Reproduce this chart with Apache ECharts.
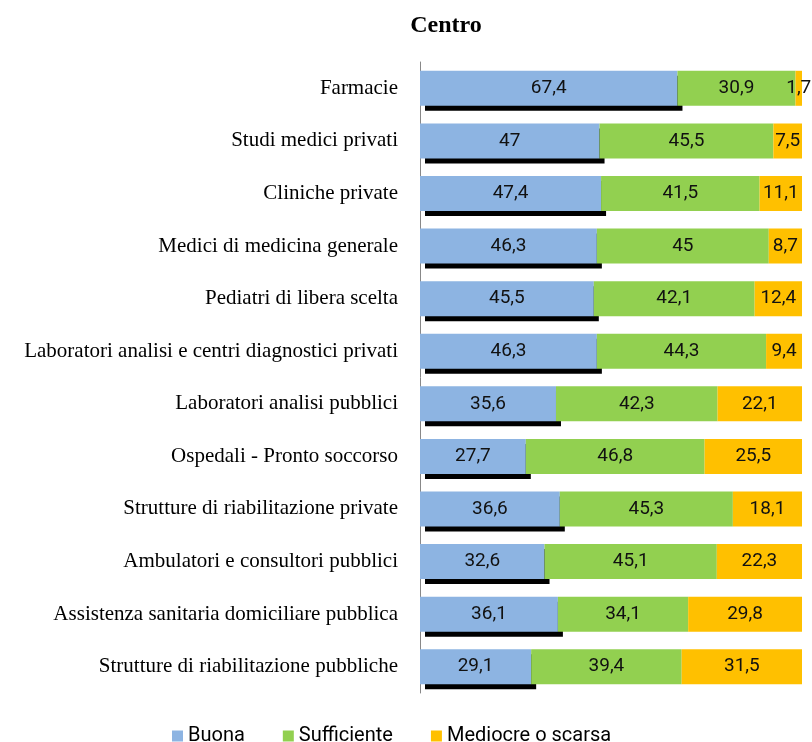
<!DOCTYPE html>
<html>
<head>
<meta charset="utf-8">
<script src="https://cdn.jsdelivr.net/npm/echarts@6/dist/echarts.min.js"></script>
<style>
  html, body { margin: 0; padding: 0; background: #fff; }
  #chart { width: 812px; height: 742px; }
</style>
</head>
<body>
<div id="chart"></div>
<script>
var categories = [
  'Farmacie',
  'Studi medici privati',
  'Cliniche private',
  'Medici di medicina generale',
  'Pediatri di libera scelta',
  'Laboratori analisi e centri diagnostici privati',
  'Laboratori analisi pubblici',
  'Ospedali - Pronto soccorso',
  'Strutture di riabilitazione private',
  'Ambulatori e consultori pubblici',
  'Assistenza sanitaria domiciliare pubblica',
  'Strutture di riabilitazione pubbliche'
];
var buona = [67.4, 47, 47.4, 46.3, 45.5, 46.3, 35.6, 27.7, 36.6, 32.6, 36.1, 29.1];
var sufficiente = [30.9, 45.5, 41.5, 45, 42.1, 44.3, 42.3, 46.8, 45.3, 45.1, 34.1, 39.4];
var mediocre = [1.7, 7.5, 11.1, 8.7, 12.4, 9.4, 22.1, 25.5, 18.1, 22.3, 29.8, 31.5];

function fmt(p) {
  return String(p.value).replace('.', ',');
}

var barLabel = {
  show: true,
  position: 'inside',
  formatter: fmt,
  color: '#111',
  fontFamily: 'Roboto',
  fontSize: 19
};

var chart = echarts.init(document.getElementById('chart'));
chart.setOption({
  backgroundColor: '#fff',
  animation: false,
  title: {
    text: 'Centro',
    left: 441,
    textAlign: 'center',
    top: 9,
    textStyle: {
      fontFamily: 'Liberation Serif',
      fontWeight: 'bold',
      fontSize: 24,
      color: '#000'
    }
  },
  legend: {
    data: ['Buona', 'Sufficiente', 'Mediocre o scarsa'],
    left: 167,
    top: 721,
    icon: 'rect',
    itemWidth: 11,
    itemHeight: 11,
    itemGap: 38,
    textStyle: {
      fontFamily: 'Roboto',
      fontSize: 20,
      color: '#000'
    }
  },
  grid: {
    left: 420,
    right: 10,
    top: 62,
    bottom: 49,
    containLabel: false
  },
  xAxis: {
    type: 'value',
    min: 0,
    max: 100,
    show: false,
    splitLine: { show: false }
  },
  yAxis: {
    type: 'category',
    data: categories,
    inverse: true,
    axisTick: { show: false },
    axisLine: { lineStyle: { color: '#888', width: 1 } },
    axisLabel: {
      margin: 22,
      fontFamily: 'Liberation Serif',
      fontSize: 21,
      color: '#000'
    }
  },
  series: [
    {
      name: 'Buona',
      type: 'bar',
      stack: 'tot',
      barWidth: 35,
      data: buona,
      label: barLabel,
      itemStyle: {
        color: '#8DB4E2',
        shadowColor: '#000',
        shadowBlur: 0,
        shadowOffsetX: 5,
        shadowOffsetY: 5
      }
    },
    {
      name: 'Sufficiente',
      type: 'bar',
      stack: 'tot',
      barWidth: 35,
      data: sufficiente,
      label: barLabel,
      itemStyle: { color: '#92D050' }
    },
    {
      name: 'Mediocre o scarsa',
      type: 'bar',
      stack: 'tot',
      barWidth: 35,
      data: mediocre,
      label: barLabel,
      itemStyle: { color: '#FFC000' }
    }
  ]
});
</script>
</body>
</html>
